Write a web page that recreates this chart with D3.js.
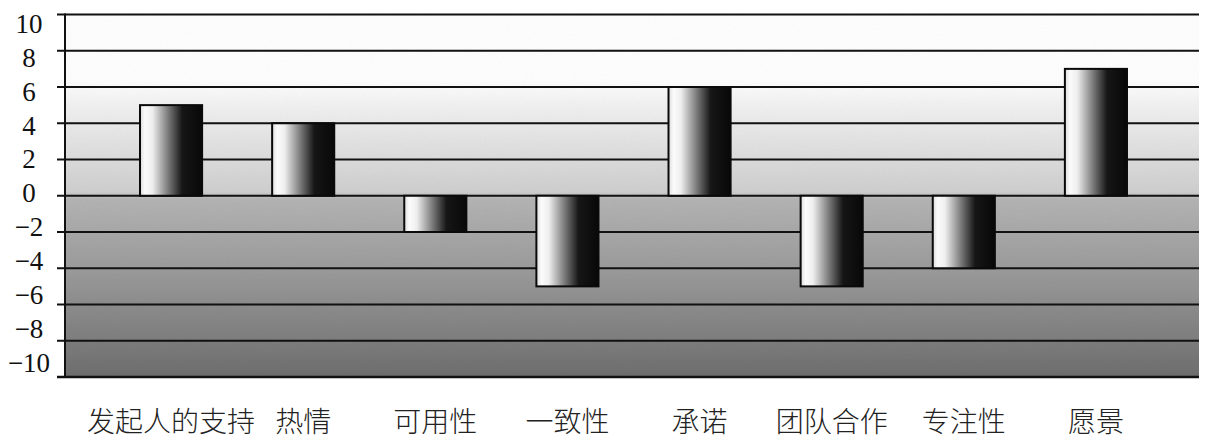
<!DOCTYPE html>
<html>
<head>
<meta charset="utf-8">
<script src="https://cdn.jsdelivr.net/npm/d3@7"></script>
<style>
  body { margin: 0; background: #fff; }
  svg { display: block; }
</style>
</head>
<body>
<svg id="chart" width="1206" height="447"></svg>
<script>
// data
let categories = ['发起人的支持', '热情', '可用性', '一致性', '承诺', '团队合作', '专注性', '愿景'],
    scores = [5, 4, -2, -5, 6, -5, -4, 7],
    tickValues = [10, 8, 6, 4, 2, 0, -2, -4, -6, -8, -10];

let svg = d3.select('#chart'),
    plotLeft = 65,
    plotRight = 1199,
    plotTop = 14.5,
    plotBottom = 377;

let y = d3.scaleLinear()
          .domain([-10, 10])
          .range([plotBottom, plotTop]);

// the tick numbers sit a bit tighter than the gridlines in the original
let yLabel = d3.scaleLinear()
               .domain([-10, 10])
               .range([363, 23.5]);

let x = d3.scaleBand()
          .domain(categories)
          .range([105, 1162])
          .paddingInner(0.53)
          .paddingOuter(0.265);

let defs = svg.append('defs');

let bg = defs.append('linearGradient')
             .attr('id', 'bgFade')
             .attr('x1', 0).attr('y1', 0).attr('x2', 0).attr('y2', 1);
[[0, '#ffffff'], [0.18, '#ffffff'], [0.26, '#f0f0f0'], [0.36, '#e2e2e2'],
 [0.49, '#cfcfcf'], [0.51, '#b4b4b4'], [0.7, '#9c9c9c'], [0.85, '#868686'], [1, '#6e6e6e']]
  .forEach(function(s) {
    bg.append('stop').attr('offset', s[0]).attr('stop-color', s[1]);
  });

let barFill = defs.append('linearGradient')
                  .attr('id', 'barFill')
                  .attr('x1', 0).attr('y1', 0).attr('x2', 1).attr('y2', 0);
[[0, '#dcdcdc'], [0.08, '#fbfbfb'], [0.2, '#eeeeee'], [0.45, '#7c7c7c'],
 [0.68, '#161616'], [1, '#080808']]
  .forEach(function(s) {
    barFill.append('stop').attr('offset', s[0]).attr('stop-color', s[1]);
  });

// grainy look of the scan, kept faint
let grain = defs.append('filter').attr('id', 'grain')
                .attr('x', 0).attr('y', 0).attr('width', 1).attr('height', 1);
grain.append('feTurbulence')
     .attr('type', 'fractalNoise').attr('baseFrequency', 0.7)
     .attr('numOctaves', 2).attr('seed', 3).attr('result', 'noise');
grain.append('feColorMatrix')
     .attr('in', 'noise').attr('type', 'matrix')
     .attr('values', '0 0 0 0 0  0 0 0 0 0  0 0 0 0 0  0 0 0 0.06 0')
     .attr('result', 'dots');
grain.append('feComposite')
     .attr('in', 'dots').attr('in2', 'SourceGraphic').attr('operator', 'atop');

svg.append('rect')
   .attr('x', plotLeft)
   .attr('y', y(10))
   .attr('width', plotRight - plotLeft)
   .attr('height', y(-10) - y(10))
   .attr('fill', 'url(#bgFade)')
   .attr('filter', 'url(#grain)');

// gridlines with the small ticks left of the axis
svg.append('g')
   .selectAll('line')
   .data(tickValues)
   .enter()
   .append('line')
   .attr('x1', plotLeft - 8)
   .attr('x2', plotRight)
   .attr('y1', function(d) { return y(d); })
   .attr('y2', function(d) { return y(d); })
   .attr('stroke', '#111')
   .attr('stroke-width', function(d) { return d == -10 ? 2.6 : 2; });

svg.append('line')
   .attr('x1', plotLeft).attr('x2', plotLeft)
   .attr('y1', y(10) - 1).attr('y2', y(-10) + 1)
   .attr('stroke', '#111')
   .attr('stroke-width', 2);

svg.append('g')
   .selectAll('text')
   .data(tickValues)
   .enter()
   .append('text')
   .attr('x', plotLeft - 36)
   .attr('y', function(d) { return yLabel(d); })
   .attr('dy', '0.34em')
   .attr('text-anchor', 'middle')
   .style('font-family', '"Liberation Serif", "DejaVu Serif", serif')
   .style('font-size', '27px')
   .attr('fill', '#111')
   .text(function(d) { return d < 0 ? '\u2212' + Math.abs(d) : d; });

// bars
svg.append('g')
   .selectAll('rect')
   .data(scores)
   .enter()
   .append('rect')
   .attr('x', function(d, i) { return x(categories[i]); })
   .attr('y', function(d) { return y(Math.max(0, d)); })
   .attr('width', x.bandwidth())
   .attr('height', function(d) { return Math.abs(y(d) - y(0)); })
   .attr('fill', 'url(#barFill)')
   .attr('stroke', '#0a0a0a')
   .attr('stroke-width', 2);

// category labels
svg.append('g')
   .selectAll('text')
   .data(categories)
   .enter()
   .append('text')
   .attr('x', function(d) { return x(d) + x.bandwidth() / 2; })
   .attr('y', 432)
   .attr('text-anchor', 'middle')
   .style('font-family', '"Noto Sans CJK SC", sans-serif')
   .style('font-size', '28px')
   .style('font-weight', 300)
   .attr('fill', '#222')
   .text(function(d) { return d; });
</script>
</body>
</html>
